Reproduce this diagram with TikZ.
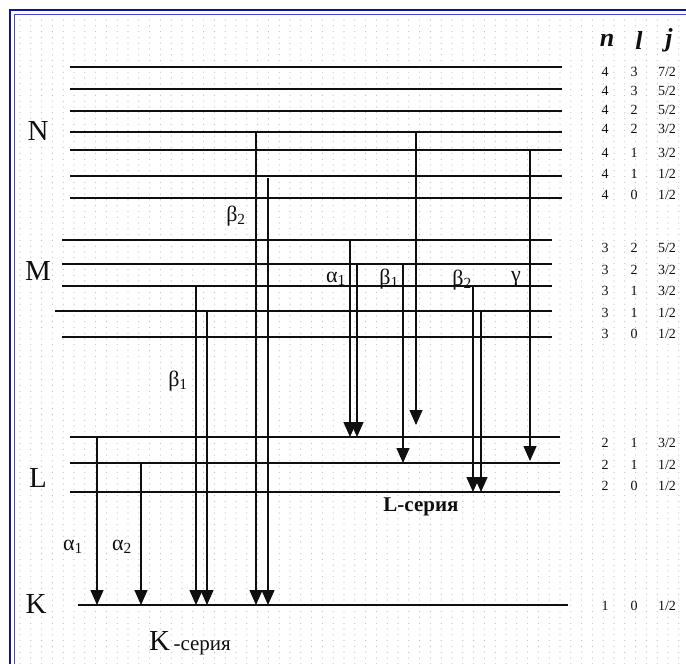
\documentclass[tikz,border=0pt]{standalone}
\usepackage{fontspec}
\setmainfont{Liberation Serif}
\usetikzlibrary{arrows.meta}
\definecolor{framedark}{RGB}{20,20,150}
\definecolor{framelight}{RGB}{70,70,210}
\definecolor{dotc}{RGB}{185,185,185}
\definecolor{ink}{RGB}{15,15,15}
\begin{document}
\begin{tikzpicture}[x=1pt,y=-1pt,
  level/.style={line width=2.3pt, draw=ink},
  trans/.style={line width=1.3pt, draw=ink, -{Triangle[width=13pt,length=15pt]}},
  lbl/.style={font=\fontsize{22}{22}\selectfont, inner sep=0pt, text=ink},
  shell/.style={font=\fontsize{29}{29}\selectfont, inner sep=0pt, text=ink},
  qn/.style={font=\fontsize{14}{14}\selectfont, inner sep=0pt, text=ink},
  head/.style={font=\fontsize{26}{26}\selectfont\bfseries\itshape, inner sep=0pt, text=ink},
  series/.style={inner sep=0pt, text=ink}]
\useasboundingbox (0,0) rectangle (686,664);
% dotted background
\foreach \x in {20,30.8,...,686} {
  \foreach \y in {20,25.8,...,664} {
    \fill[dotc] (\x,\y) circle (0.6pt);
  }
}
% frame
\draw[framedark, line width=2.2pt] (10,664) -- (10,10) -- (686,10);
\draw[framelight, line width=1.5pt] (14.5,664) -- (14.5,14.5) -- (686,14.5);
% header
\node[head] (hn) at (607,40) {n};
\node[head] (hl) at (639,40) {l};
\node[head] (hj) at (669,40) {j};
% N levels
\foreach \y in {67,89,111,132,150,176,198} \draw[level] (70,\y) -- (562,\y);
% M levels
\draw[level] (62,240) -- (552,240);
\draw[level] (62,264) -- (552,264);
\draw[level] (62,286) -- (552,286);
\draw[level] (55,311) -- (552,311);
\draw[level] (62,337) -- (552,337);
% L levels
\foreach \y in {437,463,492} \draw[level] (70,\y) -- (560,\y);
% K level
\draw[level] (78,605) -- (568,605);
% shell labels
\node[shell] (sN) at (38,131) {N};
\node[shell] (sM) at (38,271) {M};
\node[shell] (sL) at (38,478) {L};
\node[shell] (sK) at (36,604) {K};
% quantum numbers
\foreach \y/\n/\l/\j [count=\i] in {72/4/3/{7/2},91/4/3/{5/2},110/4/2/{5/2},129/4/2/{3/2},153/4/1/{3/2},174/4/1/{1/2},195/4/0/{1/2},
  248/3/2/{5/2},270/3/2/{3/2},291/3/1/{3/2},313/3/1/{1/2},334/3/0/{1/2},
  443/2/1/{3/2},465/2/1/{1/2},486/2/0/{1/2},606/1/0/{1/2}} {
  \node[qn] (qn\i) at (605,\y) {\n};
  \node[qn] (ql\i) at (634,\y) {\l};
  \node[qn] (qj\i) at (667,\y) {\j};
}
% transition coordinates
\coordinate (kA1s) at (97,437);  \coordinate (kA1e) at (97,605);
\coordinate (kA2s) at (141,463); \coordinate (kA2e) at (141,605);
\coordinate (kB1s) at (196,286); \coordinate (kB1e) at (196,605);
\coordinate (kB1t) at (207,311); \coordinate (kB1f) at (207,605);
\coordinate (kB2s) at (256,132); \coordinate (kB2e) at (256,605);
\coordinate (kB2t) at (268,178); \coordinate (kB2f) at (268,605);
\coordinate (lA1s) at (350,240); \coordinate (lA1e) at (350,437);
\coordinate (lA1t) at (357,264); \coordinate (lA1f) at (357,437);
\coordinate (lB1s) at (403,264); \coordinate (lB1e) at (403,463);
\coordinate (lB1t) at (416,132); \coordinate (lB1f) at (416,425);
\coordinate (lB2s) at (473,286); \coordinate (lB2e) at (473,492);
\coordinate (lB2t) at (481,311); \coordinate (lB2f) at (481,492);
\coordinate (lGs) at (530,150);  \coordinate (lGe) at (530,461);
% K series
\draw[trans] (kA1s) -- (kA1e);
\draw[trans] (kA2s) -- (kA2e);
\draw[trans] (kB1s) -- (kB1e);
\draw[trans] (kB1t) -- (kB1f);
\draw[trans] (kB2s) -- (kB2e);
\draw[trans] (kB2t) -- (kB2f);
% L series
\draw[trans] (lA1s) -- (lA1e);
\draw[trans] (lA1t) -- (lA1f);
\draw[trans] (lB1s) -- (lB1e);
\draw[trans] (lB1t) -- (lB1f);
\draw[trans] (lB2s) -- (lB2e);
\draw[trans] (lB2t) -- (lB2f);
\draw[trans] (lGs) -- (lGe);
% transition labels
\node[lbl] (tKa1) at (73,547) {α\textsubscript{1}};
\node[lbl] (tKa2) at (122,547) {α\textsubscript{2}};
\node[lbl] (tKb1) at (178,381) {β\textsubscript{1}};
\node[lbl] (tKb2) at (236,216) {β\textsubscript{2}};
\node[lbl] (tLa1) at (336,279) {α\textsubscript{1}};
\node[lbl] (tLb1) at (389,279) {β\textsubscript{1}};
\node[lbl] (tLb2) at (462,280) {β\textsubscript{2}};
\node[lbl] (tLg) at (516,279) {γ};
% series captions
\node[series] (cK) at (190,643) {\fontsize{29}{29}\selectfont K\fontsize{21}{21}\selectfont\,-серия};
\node[series] (cL) at (421,507) {\fontsize{21}{21}\selectfont\bfseries L-серия};
\end{tikzpicture}
\end{document}
